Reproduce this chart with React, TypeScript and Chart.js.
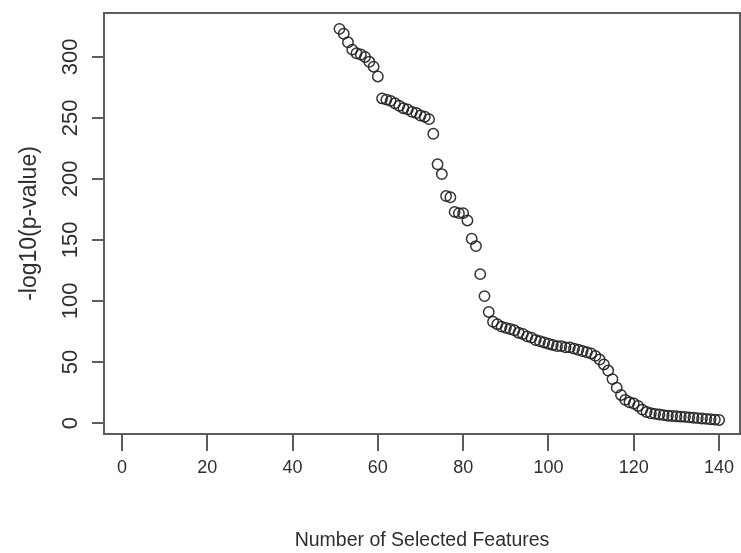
import React, { useEffect, useRef } from "react";
import { Chart, registerables } from "chart.js";

Chart.register(...registerables);

const selectedFeatures = [
  51, 52, 53, 54, 55, 56, 57, 58, 59, 60,
  61, 62, 63, 64, 65, 66, 67, 68, 69, 70,
  71, 72, 73, 74, 75, 76, 77, 78, 79, 80,
  81, 82, 83, 84, 85, 86, 87, 88, 89, 90,
  91, 92, 93, 94, 95, 96, 97, 98, 99, 100,
  101, 102, 103, 104, 105, 106, 107, 108, 109, 110,
  111, 112, 113, 114, 115, 116, 117, 118, 119, 120,
  121, 122, 123, 124, 125, 126, 127, 128, 129, 130,
  131, 132, 133, 134, 135, 136, 137, 138, 139, 140,
];

const negLog10P = [
  323, 319, 312, 306, 303, 302, 300, 296, 292, 284,
  266, 265, 264, 262, 260, 258, 257, 255, 254, 252,
  251, 249, 237, 212, 204, 186, 185, 173, 172, 172,
  166, 151, 145, 122, 104, 91, 83, 81, 79, 78,
  77, 76, 74, 73, 71, 70, 68, 67, 66, 65,
  64, 63, 63, 62, 62, 61, 60, 59, 58, 57,
  55, 52, 48, 43, 36, 29, 23, 19, 17, 16,
  14, 11, 9, 8, 7.5, 7, 6.5, 6, 5.8, 5.5,
  5.2, 5, 4.6, 4.3, 4, 3.7, 3.4, 3.1, 2.8, 2.5,
];

const xTickValues = [0, 20, 40, 60, 80, 100, 120, 140];
const yTickValues = [0, 50, 100, 150, 200, 250, 300];

const xTitle = "Number of Selected Features";
const yTitle = "-log10(p-value)";

const TEXT = "#2e2e2e";
const AXIS = "#5c5c5c";
const FONT = "'Liberation Sans', Arial, Helvetica, sans-serif";

const boxPlugin = {
  id: "plotBox",
  afterDraw(chart: any) {
    const { ctx, chartArea } = chart;
    ctx.save();
    ctx.strokeStyle = AXIS;
    ctx.lineWidth = 2;
    ctx.strokeRect(
      chartArea.left,
      chartArea.top,
      chartArea.right - chartArea.left,
      chartArea.bottom - chartArea.top
    );
    ctx.restore();
  },
};

export default function App() {
  const canvasRef = useRef<HTMLCanvasElement | null>(null);

  useEffect(() => {
    if (!canvasRef.current) return;
    const points = selectedFeatures.map((x, i) => ({ x, y: negLog10P[i] }));
    const chart = new Chart(canvasRef.current, {
      type: "scatter",
      data: {
        datasets: [
          {
            data: points,
            pointStyle: "circle",
            pointRadius: 5.2,
            pointBorderWidth: 1.5,
            pointBorderColor: "rgba(30,30,30,0.9)",
            pointBackgroundColor: "rgba(0,0,0,0)",
            showLine: false,
          },
        ],
      },
      options: {
        responsive: false,
        animation: false,
        layout: { autoPadding: false, padding: { top: 13, right: 1, left: 0, bottom: 0 } },
        plugins: {
          legend: { display: false },
          tooltip: { enabled: false },
        },
        scales: {
          x: {
            type: "linear",
            min: -4.2,
            max: 144.9,
            afterBuildTicks: (scale: any) => {
              scale.ticks = xTickValues.map((v) => ({ value: v }));
            },
            afterFit: (scale: any) => {
              scale.height = 119;
              scale.paddingLeft = 0;
              scale.paddingRight = 0;
            },
            border: { display: false },
            grid: {
              drawOnChartArea: false,
              drawTicks: true,
              tickLength: 17,
              color: AXIS,
              lineWidth: 2,
            },
            ticks: {
              autoSkip: false,
              maxRotation: 0,
              padding: 6,
              color: TEXT,
              font: { family: FONT, size: 18 },
            },
            title: {
              display: true,
              text: xTitle,
              color: TEXT,
              font: { family: FONT, size: 19.5 },
              padding: { top: 0, bottom: 1 },
            },
          },
          y: {
            type: "linear",
            min: -9,
            max: 336,
            afterBuildTicks: (scale: any) => {
              scale.ticks = yTickValues.map((v) => ({ value: v }));
            },
            afterFit: (scale: any) => {
              scale.width = 104;
              scale.paddingTop = 0;
              scale.paddingBottom = 0;
            },
            border: { display: false },
            grid: {
              drawOnChartArea: false,
              drawTicks: true,
              tickLength: 12,
              color: AXIS,
              lineWidth: 2,
            },
            ticks: {
              autoSkip: false,
              minRotation: 90,
              maxRotation: 90,
              crossAlign: "center",
              padding: 3,
              color: TEXT,
              font: { family: FONT, size: 22 },
            },
            title: {
              display: true,
              text: yTitle,
              color: TEXT,
              font: { family: FONT, size: 23 },
              padding: { top: 16, bottom: 0 },
            },
          },
        },
      },
      plugins: [boxPlugin],
    } as any);
    return () => chart.destroy();
  }, []);

  return (
    <div style={{ position: "absolute", left: 0, top: 0, width: 741, height: 553, background: "#fff" }}>
      <canvas ref={canvasRef} width={741} height={553} style={{ display: "block" }} />
    </div>
  );
}
